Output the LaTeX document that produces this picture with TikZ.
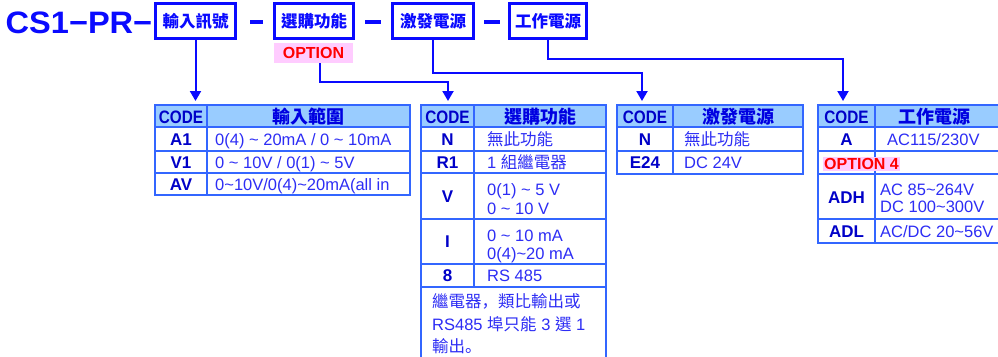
\documentclass[tikz,border=0pt]{standalone}
\usepackage{fontspec}
\setmainfont{Liberation Sans}
\newfontfamily\cjk{Noto Sans CJK TC}
\newfontfamily\cjksc{Noto Sans CJK SC}
\newfontfamily\narrowsans[FakeStretch=0.85]{Liberation Sans}
\newfontfamily\titlefont[FakeStretch=1.05]{Liberation Sans}
\usetikzlibrary{arrows.meta}
\definecolor{mainblue}{RGB}{10,10,255}
\definecolor{tblline}{RGB}{51,102,255}
\definecolor{hdrfill}{RGB}{153,204,255}
\definecolor{codedark}{RGB}{0,0,200}
\definecolor{hdrtext}{RGB}{0,0,225}
\definecolor{bodyblue}{RGB}{45,45,245}
\definecolor{optpink}{RGB}{255,204,255}
\definecolor{optred}{RGB}{255,0,0}
\newcommand{\mytilde}{\textasciitilde}
\tikzset{
  hbox/.style={draw=mainblue, line width=3pt, minimum height=35pt, inner sep=0pt,
    font=\cjk\bfseries\fontsize{16.5}{18}\selectfont, text=mainblue},
  conn/.style={draw=mainblue, line width=2pt, -{Triangle[width=11pt,length=10pt]}},
  tline/.style={draw=tblline, line width=2pt},
  hfill/.style={fill=hdrfill},
  codehdr/.style={anchor=base, inner sep=0pt, font=\narrowsans\bfseries\fontsize{18}{20}\selectfont, text=codedark},
  cjkhdr/.style={anchor=base, inner sep=0pt, font=\cjk\bfseries\fontsize{18}{20}\selectfont, text=hdrtext},
  code/.style={anchor=base, inner sep=0pt, font=\bfseries\fontsize{17}{20}\selectfont, text=codedark},
  desc/.style={anchor=base west, inner sep=0pt, font=\fontsize{16.5}{19}\selectfont, text=bodyblue},
  optlbl/.style={fill=optpink, text=optred, font=\bfseries\fontsize{16}{18}\selectfont, inner sep=0pt},
  dashbar/.style={fill=mainblue}
}
\begin{document}
\begin{tikzpicture}[x=1pt,y=-1pt]
\useasboundingbox (0,0) rectangle (998,356);
\clip (0,0) rectangle (998,356);
\fill[white] (0,0) rectangle (998,356);

% title and header boxes
\node[anchor=base west, inner sep=0pt, text=mainblue, font=\titlefont\bfseries\fontsize{31}{34}\selectfont] (title) at (5.5,33) {CS1−PR−};
\node[hbox, minimum width=80pt] (b1) at (195.5,21) {輸入訊號};
\node[hbox, minimum width=79pt] (b2) at (314,21) {選購功能};
\node[hbox, minimum width=81pt] (b3) at (433,21) {激發電源};
\node[hbox, minimum width=77pt] (b4) at (548,21) {工作電源};
\fill[dashbar] (250,19.5) rectangle (263,24);
\fill[dashbar] (365,19.5) rectangle (381,24);
\fill[dashbar] (484,19.5) rectangle (500,24);
\node[optlbl, minimum width=79pt, minimum height=20pt] (opt) at (313.5,53) {OPTION};

% connectors
\coordinate (e1) at (195.5,101);
\coordinate (e2) at (448,101);
\coordinate (e3) at (642,101);
\coordinate (e4) at (843,101);
\draw[conn] (b1.south) -- (e1);
\draw[conn] ([xshift=6.5pt]opt.south) -- ++(0,19) -| (e2);
\draw[conn] (b3.south) -- ++(0,33) -| (e3);
\draw[conn] (b4.south) -- ++(0,19) -| (e4);

% table 1
\fill[hfill] (155,105) rectangle (410,127);
\draw[tline] (155,105) rectangle (410,195);
\draw[tline] (155,127) -- (410,127) (155,151) -- (410,151) (155,173) -- (410,173) (207,105) -- (207,195);
\node[codehdr] (t1c) at (181,123) {CODE};
\node[cjkhdr] (t1h) at (308.5,123) {輸入範圍};
\node[code] (t1a) at (181,145) {A1};
\node[desc] (t1ad) at (215,145) {0(4) \mytilde\ 20mA / 0 \mytilde\ 10mA};
\node[code] (t1b) at (181,168) {V1};
\node[desc] (t1bd) at (215,168) {0 \mytilde\ 10V / 0(1) \mytilde\ 5V};
\node[code] (t1x) at (181,190) {AV};
\node[desc] (t1xd) at (215,190) {0\mytilde 10V/0(4)\mytilde 20mA(all in};

% table 2
\fill[hfill] (421,105) rectangle (606,127);
\draw[tline] (421,360) -- (421,105) -- (606,105) -- (606,360);
\draw[tline] (421,127) -- (606,127) (421,151) -- (606,151) (421,173) -- (606,173)
  (421,219) -- (606,219) (421,264) -- (606,264) (421,287) -- (606,287) (474,105) -- (474,287);
\node[codehdr] (t2c) at (447.5,123) {CODE};
\node[cjkhdr] (t2h) at (540,123) {選購功能};
\node[code] (t2n) at (447.5,145) {N};
\node[desc] (t2nd) at (487,145) {\cjk 無此功能};
\node[code] (t2r) at (447.5,168) {R1};
\node[desc] (t2rd) at (487,168) {1 {\cjk 組繼電器}};
\node[code] (t2v) at (447.5,202) {V};
\node[desc] (t2vd1) at (487,195) {0(1) \mytilde\ 5 V};
\node[desc] (t2vd2) at (487,214) {0 \mytilde\ 10 V};
\node[code] (t2i) at (447.5,247.5) {I};
\node[desc] (t2id1) at (487,241) {0 \mytilde\ 10 mA};
\node[desc] (t2id2) at (487,259) {0(4)\mytilde 20 mA};
\node[code] (t2e) at (447.5,281.5) {8};
\node[desc] (t2ed) at (487,281.5) {RS 485};
\node[desc] (t2n1) at (432,307) {{\cjk 繼電器}{\cjksc ，}{\cjk 類比輸出或}};
\node[desc] (t2n2) at (432,330) {RS485 {\cjk 埠只能} 3 {\cjk 選} 1};
\node[desc] (t2n3) at (432,352) {{\cjk 輸出}{\cjksc 。}};

% table 3
\fill[hfill] (617,105) rectangle (803,127);
\draw[tline] (617,105) rectangle (803,174);
\draw[tline] (617,127) -- (803,127) (617,151) -- (803,151) (673,105) -- (673,174);
\node[codehdr] (t3c) at (645,123) {CODE};
\node[cjkhdr] (t3h) at (738,123) {激發電源};
\node[code] (t3n) at (645,145) {N};
\node[desc] (t3nd) at (684,145) {\cjk 無此功能};
\node[code] (t3e) at (645,168.5) {E24};
\node[desc] (t3ed) at (684,168.5) {DC 24V};

% table 4
\fill[hfill] (818,105) rectangle (1010,127);
\draw[tline] (1010,105) -- (818,105) -- (818,243) -- (1010,243);
\draw[tline] (818,127) -- (1010,127) (818,151) -- (1010,151) (818,174) -- (1010,174)
  (818,219) -- (1010,219) (875,105) -- (875,243);
\node[codehdr] (t4c) at (846.5,123) {CODE};
\node[cjkhdr] (t4h) at (934,123) {工作電源};
\node[code] (t4a) at (846.5,145) {A};
\node[desc] (t4ad) at (887,145) {AC115/230V};
\node[optlbl, minimum width=77pt, minimum height=14pt] (opt4) at (861.5,164) {OPTION 4};
\node[code] (t4h1) at (846.5,203) {ADH};
\node[desc] (t4hd1) at (880,195) {AC 85\mytilde 264V};
\node[desc] (t4hd2) at (880,212) {DC 100\mytilde 300V};
\node[code] (t4l) at (846.5,237) {ADL};
\node[desc] (t4ld) at (880,237) {AC/DC 20\mytilde 56V};
\end{tikzpicture}
\end{document}
